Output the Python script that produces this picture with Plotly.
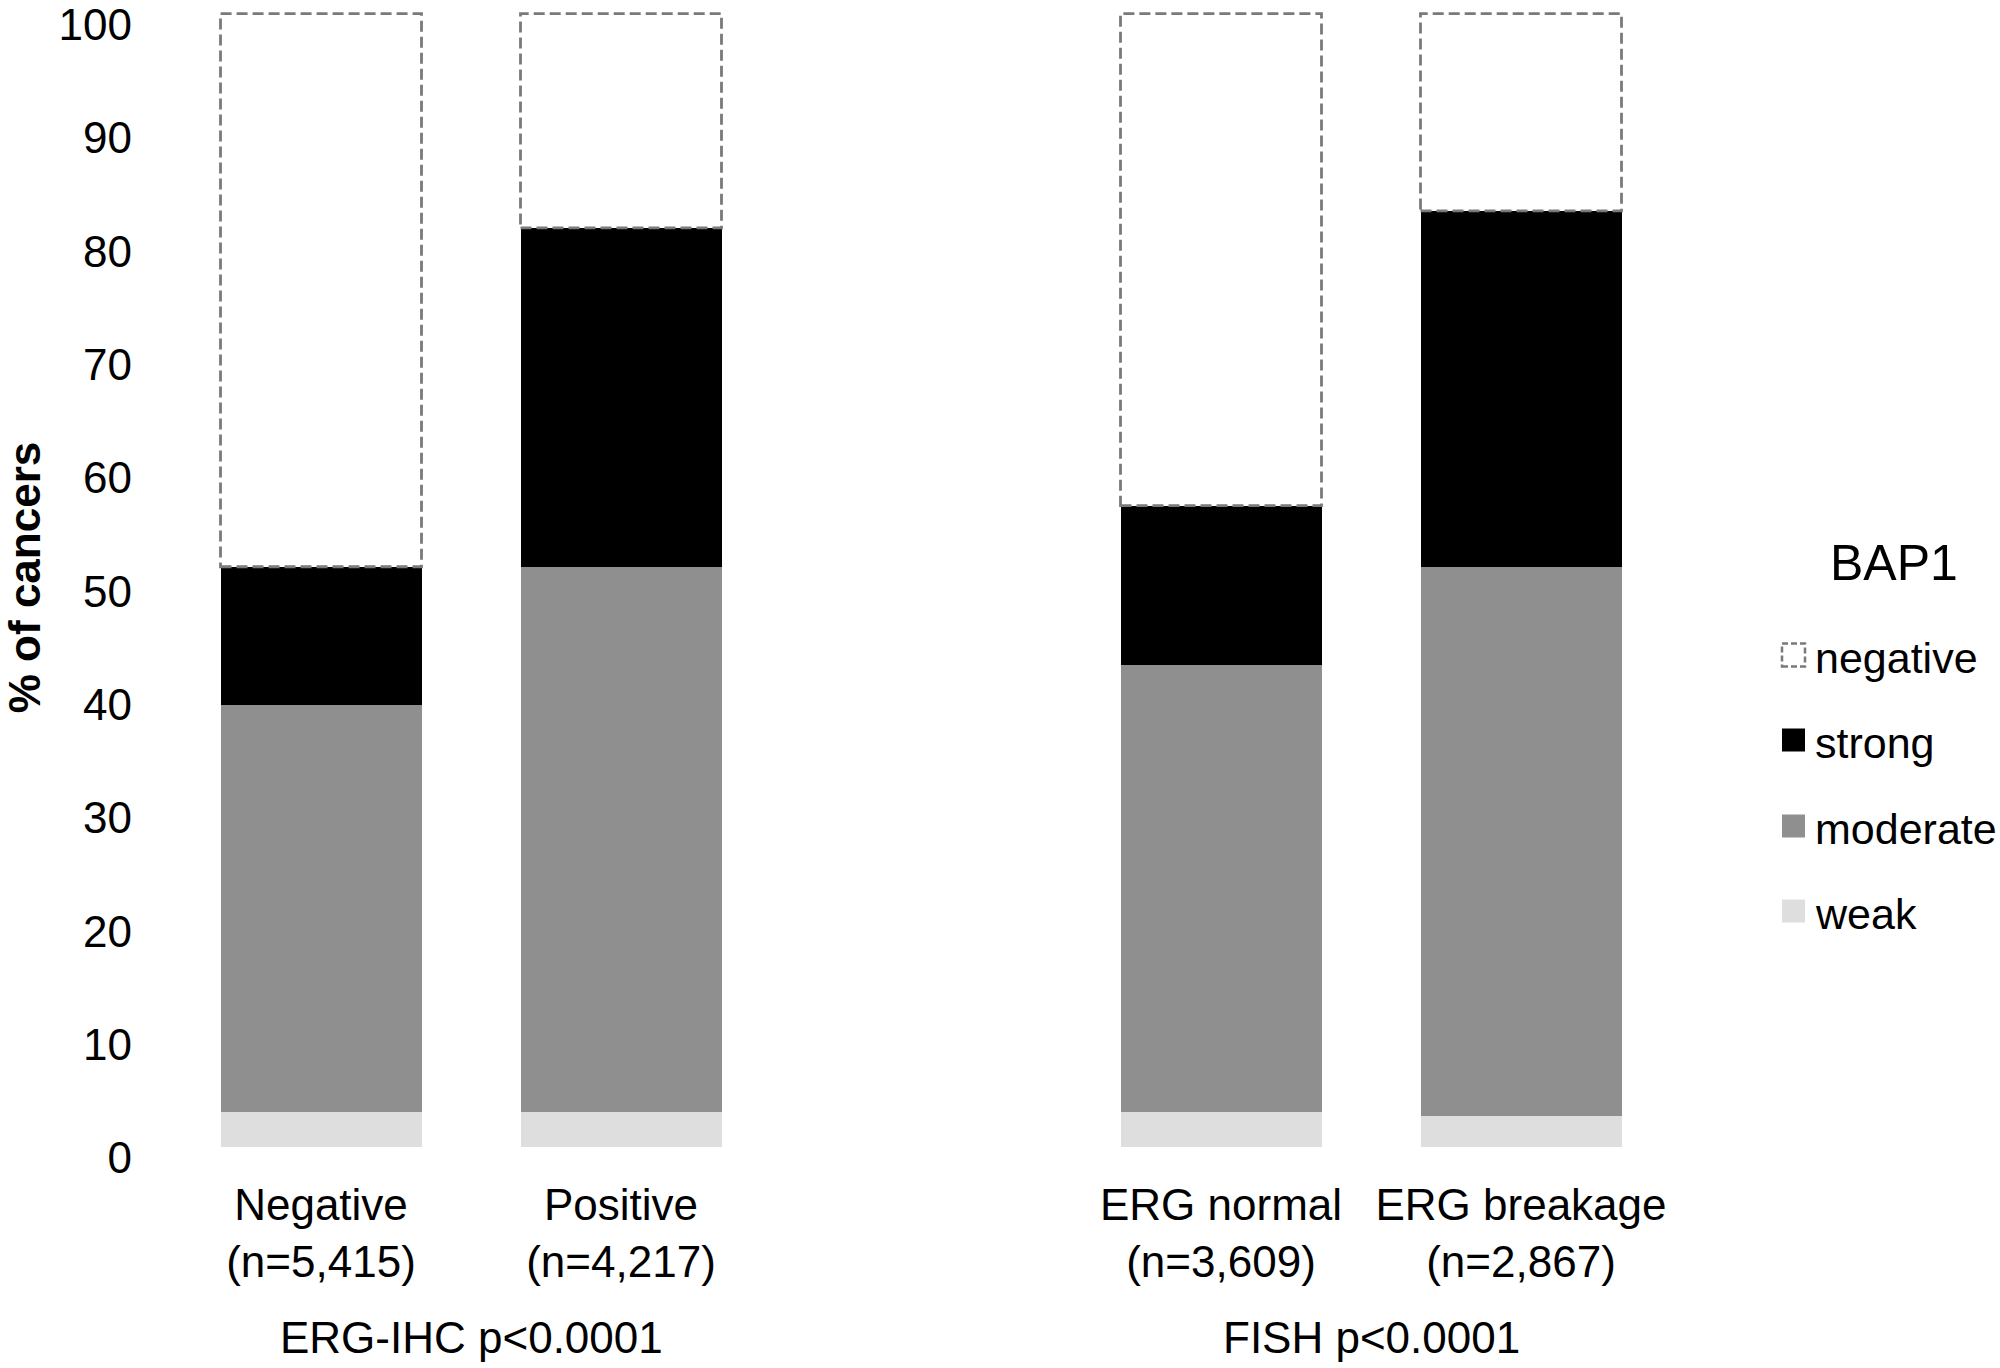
import plotly.graph_objects as go

# ---------------- data ----------------
categories = ["Negative<br>(n=5,415)", "Positive<br>(n=4,217)",
              "ERG normal<br>(n=3,609)", "ERG breakage<br>(n=2,867)"]
group_names = ["ERG-IHC p<0.0001", "FISH p<0.0001"]
group_members = [[0, 1], [2, 3]]
weak = [3.1, 3.1, 3.1, 2.7]
moderate = [35.9, 48.1, 39.4, 48.5]
strong = [12.2, 29.9, 14.1, 31.4]
negative = [48.8, 18.9, 43.4, 17.4]
y_ticks = [0, 10, 20, 30, 40, 50, 60, 70, 80, 90, 100]
legend_title = "BAP1"
legend_order = ["negative", "strong", "moderate", "weak"]

# ---------------- style ----------------
FONT = "Liberation Sans, Arial, sans-serif"
FS = 44
colors = {"weak": "#dedede", "moderate": "#8f8f8f", "strong": "#000000", "negative": "#ffffff"}
DASH_COLOR = "#7a7a7a"
SPACER = " "
cat_order = categories[:2] + [SPACER] + categories[2:]
cat_index = {c: cat_order.index(c) for c in categories}
BARGAP = 0.33
BARW = 1 - BARGAP

W_PX, H_PX = 2000, 1368
L, R, T, B = 171, 329, 8, 221
plot_w = W_PX - L - R
plot_h = H_PX - T - B


def px_x(px):
    return (px - L) / plot_w


def px_y(py):
    return (H_PX - B - py) / plot_h


series = {"weak": weak, "moderate": moderate, "strong": strong, "negative": negative}

fig = go.Figure()
for name in ["weak", "moderate", "strong", "negative"]:
    fig.add_trace(go.Bar(
        x=categories, y=series[name], name=name,
        marker=dict(color=colors[name], line=dict(width=0)),
        showlegend=False,
    ))

# dashed outlines for the "negative" segments
shapes = []
for i, c in enumerate(categories):
    base = weak[i] + moderate[i] + strong[i]
    xi = cat_index[c]
    shapes.append(dict(type="rect", xref="x", yref="y",
                       x0=xi - BARW / 2, x1=xi + BARW / 2,
                       y0=base, y1=base + negative[i],
                       line=dict(color=DASH_COLOR, width=2.8, dash="11px,5px"),
                       fillcolor="rgba(0,0,0,0)", layer="above"))

annotations = []
# group labels
for gname, members in zip(group_names, group_members):
    xc = sum(cat_index[categories[m]] for m in members) / len(members)
    annotations.append(dict(x=xc, xref="x", y=px_y(1337), yref="paper",
                            text=gname, showarrow=False,
                            font=dict(family=FONT, size=FS, color="#000"),
                            xanchor="center", yanchor="middle"))

# manual legend
annotations.append(dict(x=px_x(1894), xref="paper", y=px_y(563), yref="paper",
                        text=legend_title, showarrow=False,
                        font=dict(family=FONT, size=50, color="#000"),
                        xanchor="center", yanchor="middle"))
leg_y = [655, 740, 826, 911]
for name, py in zip(legend_order, leg_y):
    sq = 23
    x0p, x1p = 1782, 1782 + sq
    y0p, y1p = py - sq / 2, py + sq / 2
    if name == "negative":
        line = dict(color=DASH_COLOR, width=2.5, dash="6px,3px")
        fill = "#ffffff"
    else:
        line = dict(width=0)
        fill = colors[name]
    shapes.append(dict(type="rect", xref="paper", yref="paper",
                       x0=px_x(x0p), x1=px_x(x1p), y0=px_y(y1p), y1=px_y(y0p),
                       line=line, fillcolor=fill))
    annotations.append(dict(x=px_x(1813), xref="paper", y=px_y(py + 3), yref="paper",
                            text=name, showarrow=False,
                            font=dict(family=FONT, size=43, color="#000"),
                            xanchor="left", yanchor="middle"))

fig.update_layout(
    barmode="stack",
    bargap=BARGAP,
    width=W_PX, height=H_PX,
    margin=dict(l=L, r=R, t=T, b=B, autoexpand=False),
    paper_bgcolor="#ffffff", plot_bgcolor="#ffffff",
    font=dict(family=FONT, size=FS, color="#000"),
    shapes=shapes,
    annotations=annotations,
    showlegend=False,
    xaxis=dict(type="category", categoryorder="array", categoryarray=cat_order,
               range=[-0.5, len(cat_order) - 0.5],
               showgrid=False, showline=False, zeroline=False,
               ticks="", ticklabelstandoff=28,
               tickfont=dict(family=FONT, size=FS, color="#000"),
               automargin=False),
    yaxis=dict(range=[0, 100.5], tickvals=y_ticks, ticktext=[str(v) for v in y_ticks],
               showgrid=False, showline=False, zeroline=False,
               ticks="", ticklabelstandoff=38, ticklabelshift=11,
               ticklabeloverflow="allow",
               tickfont=dict(family=FONT, size=FS, color="#000"),
               title=dict(text="<b>% of cancers</b>", standoff=35,
                          font=dict(family=FONT, size=FS, color="#000")),
               automargin=False),
)

fig.write_html("out.html", config={"displayModeBar": False},
               post_script="document.body.style.margin='0';document.body.style.overflow='hidden';")
